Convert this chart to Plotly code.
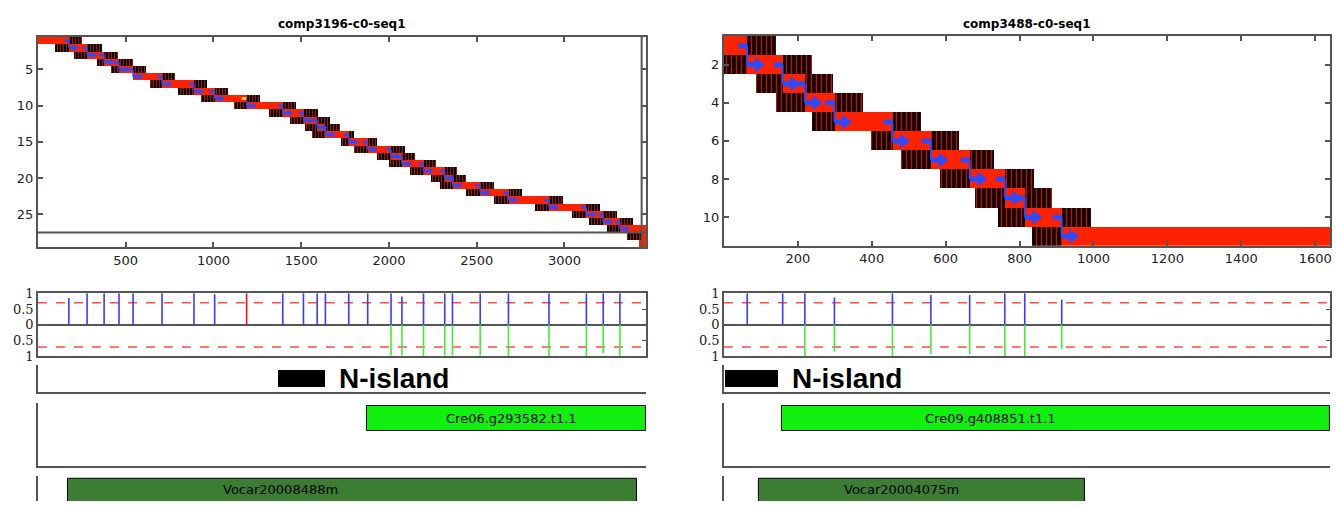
import plotly.graph_objects as go

W, H = 1336, 509

# ---------------------------------------------------------------- data
TITLES = ["comp3196-c0-seq1", "comp3488-c0-seq1"]

# left contig: one entry per aligned read row
L_ROWS = list(range(1, 30))
L_RED_START = [0, 176, 280, 377, 462, 542, 707, 889, 1007, 1189, 1395, 1513, 1591, 1638, 1771,
               1879, 2012, 2074, 2197, 2318, 2362, 2520, 2681, 2912, 3125, 3221, 3316, 3441, 3424]
L_RED_END = [176, 280, 377, 462, 542, 707, 889, 1007, 1189, 1395, 1513, 1591, 1638, 1771, 1879,
             2012, 2074, 2197, 2318, 2362, 2520, 2681, 2912, 3125, 3221, 3316, 3465, 3465, 3465]
L_BLACK_LEFT = [None, 97, 207, 334, 415, None, 640, 800, 930, 1115, 1314, 1434, 1519, 1562, 1726,
                1803, 1930, 2000, 2120, 2240, 2290, 2440, 2600, 2830, 3040, 3140, 3240, 3356, None]
L_BLACK_RIGHT = [248, 362, 453, 542, 618, 779, 965, 1080, 1263, 1468, 1593, 1661, 1718, 1803, 1934,
                 2090, 2150, 2270, 2390, 2440, 2600, 2760, 2990, 3200, 3300, 3390, None, None, None]
L_JUNCTIONS = [176, 280, 377, 462, 542, 707, 889, 1007, 1189, 1395, 1513, 1591, 1638, 1771, 1879,
               2012, 2074, 2197, 2318, 2362, 2520, 2681, 2912, 3125, 3221, 3316]
L_FWD = [0.85, 1, 1, 1, 1, 1, 1, 0.97, 1, 1, 1, 1, 1, 1, 1,
         1, 0.9, 1, 1, 1, 1, 1, 1, 1, 1, 1]
L_REV = [0, 0, 0, 0, 0, 0, 0, 0, 0, 0, 0, 0, 0, 0, 0,
         0.97, 0.97, 1, 0.97, 0.97, 0.97, 1, 1, 1, 0.9, 1]
L_FLAG = [0, 0, 0, 0, 0, 0, 0, 0, 1, 0, 0, 0, 0, 0, 0,
          0, 0, 0, 0, 0, 0, 0, 0, 0, 0, 0]

# right contig
R_ROWS = list(range(1, 12))
R_RED_START = [0, 63, 159, 219, 299, 456, 560, 665, 760, 814, 914]
R_RED_END = [63, 159, 219, 299, 456, 560, 665, 760, 814, 914, 1640]
R_BLACK_LEFT = [None, 0, 87, 140, 239, 399, 480, 584, 680, 741, 834]
R_BLACK_RIGHT = [141, 239, 295, 377, 534, 637, 730, 838, 887, 992, None]
R_JUNCTIONS = [63, 159, 219, 299, 456, 560, 665, 760, 814, 914]
R_FWD = [1, 1, 1, 0.87, 1, 0.95, 0.95, 1, 1, 0.8]
R_REV = [0, 0, 1, 0.85, 1, 0.93, 0.93, 1, 1, 0.77]
R_FLAG = [0, 0, 0, 0, 0, 0, 0, 0, 0, 0]

# axis extents / ticks
L_XMAX, R_XMAX = 3465, 1640
L_CONTIG_END, L_ROW_EDGE = 3440, 27.5
L_XTICKS = [500, 1000, 1500, 2000, 2500, 3000]
L_YTICKS = [5, 10, 15, 20, 25]
R_XTICKS = [200, 400, 600, 800, 1000, 1200, 1400, 1600]
R_YTICKS = [2, 4, 6, 8, 10]
MID_TICKS = [1, 0.5, 0, -0.5, -1]
MID_TICKTEXT = ["1", "0.5", "0", "0.5", "1"]
THRESH = 0.7

# annotation tracks: [start, end] and label positions
NISLAND_LABEL = "N-island"
L_NISLAND = [1365, 1633]
R_NISLAND = [3, 146]
L_NISLAND_TEXT_X, R_NISLAND_TEXT_X = 1706, 180
CRE_NAMES = ["Cre06.g293582.t1.1", "Cre09.g408851.t1.1"]
CRE_START = [1877, 157]
CRE_END = [3465, 1640]
CRE_TEXT_X = [2700, 722]
VOC_NAMES = ["Vocar20008488m", "Vocar20004075m"]
VOC_START = [171, 95]
VOC_END = [3413, 978]
VOC_TEXT_X = [1380, 481]

# ---------------------------------------------------------------- styles
RED = '#ff2200'
STRIPE = '#c81600'
BLUE = '#2a4bff'
YELLOW = '#ffe600'
STICK_BLUE = '#3a3aff'
STICK_RED = '#e81010'
GREEN = '#40ee30'
DASH_RED = '#ff4a4a'
LIME = '#12f010'
DKGREEN = '#3a7d33'
AXC = '#555555'
SANS = 'DejaVu Sans'


def xd(a, b):
    return [a / W, b / W]


def yd(top, bot):
    return [1 - bot / H, 1 - top / H]


LX, RX = xd(38, 647), xd(725, 1332)

traces = []


def read_bars(rows, rs, re_, bl, br, xa, ya, psize):
    by, bb, bx = [], [], []
    for r, s, e, l, rr in zip(rows, rs, re_, bl, br):
        if l is not None:
            by.append(r); bb.append(l); bx.append(s - l)
        if rr is not None:
            by.append(r); bb.append(e); bx.append(rr - e)
    blk = go.Bar(orientation='h', y=by, base=bb, x=bx, width=1.0,
                 marker=dict(color='black', line=dict(width=0),
                             pattern=dict(shape='|', fillmode='replace', fgcolor=STRIPE,
                                          bgcolor='black', size=psize, solidity=0.3)),
                 xaxis=xa, yaxis=ya, showlegend=False, hoverinfo='skip')
    red = go.Bar(orientation='h', y=rows, base=rs, x=[e - s for s, e in zip(rs, re_)], width=1.0,
                 marker=dict(color=RED, line=dict(width=0)),
                 xaxis=xa, yaxis=ya, showlegend=False, hoverinfo='skip')
    return [blk, red]


def arrows(rows, junctions, flags, xa, ya, dash_len, shaft_len, dash_w, vert_w, shaft_w, head):
    out = []
    for fv, col in ((0, BLUE), (1, YELLOW)):
        xs, ys = [], []
        for i, (j, f) in enumerate(zip(junctions, flags)):
            if f == fv:
                xs += [j - dash_len, j, None]
                ys += [rows[i], rows[i], None]
        if xs:
            out.append(go.Scatter(x=xs, y=ys, mode='lines', line=dict(color=col, width=dash_w),
                                  xaxis=xa, yaxis=ya, showlegend=False, hoverinfo='skip'))
    vx, vy, sx, sy, hx, hy = [], [], [], [], [], []
    for i, j in enumerate(junctions):
        vx += [j, j, None]; vy += [rows[i], rows[i + 1], None]
        sx += [j, j + shaft_len, None]; sy += [rows[i + 1], rows[i + 1], None]
        hx.append(j + shaft_len); hy.append(rows[i + 1])
    out.append(go.Scatter(x=vx, y=vy, mode='lines', line=dict(color=BLUE, width=vert_w),
                          xaxis=xa, yaxis=ya, showlegend=False, hoverinfo='skip'))
    out.append(go.Scatter(x=sx, y=sy, mode='lines', line=dict(color=BLUE, width=shaft_w),
                          xaxis=xa, yaxis=ya, showlegend=False, hoverinfo='skip'))
    out.append(go.Scatter(x=hx, y=hy, mode='markers',
                          marker=dict(symbol='triangle-right', size=head, color=BLUE, line=dict(width=0)),
                          xaxis=xa, yaxis=ya, showlegend=False, hoverinfo='skip'))
    return out


def sticks(junctions, fwd, rev, flags, xmax, xa, ya):
    out = []
    for sign in (1, -1):
        out.append(go.Scatter(x=[0, xmax], y=[sign * THRESH, sign * THRESH], mode='lines',
                              line=dict(color=DASH_RED, width=1.6, dash='dash'),
                              xaxis=xa, yaxis=ya, showlegend=False, hoverinfo='skip'))
    bx, by, rx, ry, gx, gy = [], [], [], [], [], []
    for j, f, r, fl in zip(junctions, fwd, rev, flags):
        if f > 0:
            if fl:
                rx += [j, j, None]; ry += [0, f, None]
            else:
                bx += [j, j, None]; by += [0, f, None]
        if r > 0:
            gx += [j, j, None]; gy += [0, -r, None]
    for xs, ys, c in ((bx, by, STICK_BLUE), (rx, ry, STICK_RED), (gx, gy, GREEN)):
        if xs:
            out.append(go.Scatter(x=xs, y=ys, mode='lines', line=dict(color=c, width=1.6),
                                  xaxis=xa, yaxis=ya, showlegend=False, hoverinfo='skip'))
    return out


# top panels
traces += read_bars(L_ROWS, L_RED_START, L_RED_END, L_BLACK_LEFT, L_BLACK_RIGHT, 'x', 'y', 3)
traces += arrows(L_ROWS, L_JUNCTIONS, L_FLAG, 'x', 'y', 28, 40, 2.5, 1.5, 3, 6)
traces += read_bars(R_ROWS, R_RED_START, R_RED_END, R_BLACK_LEFT, R_BLACK_RIGHT, 'x2', 'y2', 5)
traces += arrows(R_ROWS, R_JUNCTIONS, R_FLAG, 'x2', 'y2', 24, 30, 5, 2, 5, 13)

# middle panels
traces += sticks(L_JUNCTIONS, L_FWD, L_REV, L_FLAG, L_XMAX, 'x3', 'y3')
traces += sticks(R_JUNCTIONS, R_FWD, R_REV, R_FLAG, R_XMAX, 'x4', 'y4')

# N-island tracks
for k, (rng, xa, ya) in enumerate(((L_NISLAND, 'x5', 'y5'), (R_NISLAND, 'x6', 'y6'))):
    traces.append(go.Bar(orientation='h', y=[0.5], base=[rng[0]], x=[rng[1] - rng[0]], width=[0.6],
                         marker=dict(color='black', line=dict(width=0)),
                         xaxis=xa, yaxis=ya, showlegend=False, hoverinfo='skip'))

# gene tracks
for k, (xa, ya) in enumerate((('x7', 'y7'), ('x8', 'y8'))):
    traces.append(go.Bar(orientation='h', y=[0.754], base=[CRE_START[k]], x=[CRE_END[k] - CRE_START[k]],
                         width=[0.4], marker=dict(color=LIME, line=dict(color='black', width=1)),
                         xaxis=xa, yaxis=ya, showlegend=False, hoverinfo='skip'))
for k, (xa, ya) in enumerate((('x9', 'y9'), ('x10', 'y10'))):
    traces.append(go.Bar(orientation='h', y=[0.2], base=[VOC_START[k]], x=[VOC_END[k] - VOC_START[k]],
                         width=[1.4], marker=dict(color=DKGREEN, line=dict(color='black', width=1)),
                         xaxis=xa, yaxis=ya, showlegend=False, hoverinfo='skip'))

fig = go.Figure(traces)

tickfont = dict(family=SANS, size=13, color='#222')


def top_x(dom, xmax, tv, anchor):
    return dict(domain=dom, range=[0, xmax], showline=True, linecolor=AXC, linewidth=2, mirror='ticks',
                ticks='inside', ticklen=5, tickwidth=1.5, tickcolor=AXC, tickvals=tv, tickfont=tickfont,
                showgrid=False, zeroline=False, anchor=anchor)


def top_y(dom, rng, tv, anchor):
    return dict(domain=dom, range=rng, showline=True, linecolor=AXC, linewidth=2, mirror='ticks',
                ticks='inside', ticklen=5, tickwidth=1.5, tickcolor=AXC, tickvals=tv, tickfont=tickfont,
                showgrid=False, zeroline=False, anchor=anchor)


def mid_x(dom, xmax, anchor):
    return dict(domain=dom, range=[0, xmax], showline=True, linecolor=AXC, linewidth=1.5, mirror=True,
                showticklabels=False, ticks='', showgrid=False, zeroline=False, anchor=anchor)


def mid_y(dom, anchor):
    return dict(domain=dom, range=[-1, 1], showline=True, linecolor=AXC, linewidth=1.5, mirror=True,
                ticks='', tickvals=MID_TICKS, ticktext=MID_TICKTEXT,
                tickfont=dict(family='DejaVu Serif', size=13, color='#222'),
                showgrid=False, zeroline=True, zerolinecolor=AXC, zerolinewidth=1.5, anchor=anchor)


def mid_y_right(ov, anchor):
    return dict(overlaying=ov, side='right', range=[-1, 1], showline=False, ticks='inside', ticklen=4,
                tickcolor=AXC, tickvals=[0.5, -0.5], showticklabels=False, showgrid=False,
                zeroline=False, anchor=anchor)


def trk_x(dom, xmax, anchor, line=True):
    return dict(domain=dom, range=[0, xmax], showline=line, linecolor=AXC, linewidth=1.5, mirror=False,
                showticklabels=False, ticks='', showgrid=False, zeroline=False, anchor=anchor)


def trk_y(dom, anchor):
    return dict(domain=dom, range=[0, 1], showline=True, linecolor=AXC, linewidth=1.5, mirror=False,
                showticklabels=False, ticks='', showgrid=False, zeroline=False, anchor=anchor)


layout = dict(
    width=W, height=H, margin=dict(l=0, r=0, t=0, b=0),
    paper_bgcolor='white', plot_bgcolor='white', barmode='overlay', bargap=0,
    showlegend=False,
    xaxis=top_x(LX, L_XMAX, L_XTICKS, 'y'),
    yaxis=top_y(yd(30.7, 247.3), [29.5, 0.5], L_YTICKS, 'x'),
    xaxis2=top_x(RX, R_XMAX, R_XTICKS, 'y2'),
    yaxis2=top_y(yd(30, 246), [11.5, 0.5], R_YTICKS, 'x2'),
    xaxis3=mid_x(LX, L_XMAX, 'y3'), yaxis3=mid_y(yd(295, 360), 'x3'),
    xaxis4=mid_x(RX, R_XMAX, 'y4'), yaxis4=mid_y(yd(295, 360), 'x4'),
    xaxis5=trk_x(LX, L_XMAX, 'y5'), yaxis5=trk_y(yd(369, 397), 'x5'),
    xaxis6=trk_x(RX, R_XMAX, 'y6'), yaxis6=trk_y(yd(369, 397), 'x6'),
    xaxis7=trk_x(LX, L_XMAX, 'y7'), yaxis7=trk_y(yd(408, 473), 'x7'),
    xaxis8=trk_x(RX, R_XMAX, 'y8'), yaxis8=trk_y(yd(408, 473), 'x8'),
    xaxis9=trk_x(LX, L_XMAX, 'y9', line=False), yaxis9=trk_y(yd(483, 509), 'x9'),
    xaxis10=trk_x(RX, R_XMAX, 'y10', line=False), yaxis10=trk_y(yd(483, 509), 'x10'),
    yaxis11=mid_y_right('y3', 'x3'),
    yaxis12=mid_y_right('y4', 'x4'),
)
fig.update_layout(**layout)

# invisible traces to activate the right-side tick axes of the middle panels
fig.add_trace(go.Scatter(x=[None], y=[None], xaxis='x3', yaxis='y11', showlegend=False, hoverinfo='skip'))
fig.add_trace(go.Scatter(x=[None], y=[None], xaxis='x4', yaxis='y12', showlegend=False, hoverinfo='skip'))

# contig end / last-row markers in the left read panel
fig.add_shape(type='line', xref='x', yref='y', x0=L_CONTIG_END, x1=L_CONTIG_END, y0=0.5, y1=29.5,
              line=dict(color=AXC, width=2))
fig.add_shape(type='line', xref='x', yref='y', x0=0, x1=L_XMAX, y0=L_ROW_EDGE, y1=L_ROW_EDGE,
              line=dict(color=AXC, width=2))

ann = []
for t, dom in zip(TITLES, (LX, RX)):
    ann.append(dict(text=t, x=(dom[0] + dom[1]) / 2, y=1 - 18 / H, xref='paper', yref='paper',
                    xanchor='center', yanchor='middle', showarrow=False,
                    font=dict(family=SANS, size=12, color='black', weight='bold')))
for xa, ya, xt in (('x5', 'y5', L_NISLAND_TEXT_X), ('x6', 'y6', R_NISLAND_TEXT_X)):
    ann.append(dict(text=NISLAND_LABEL, x=xt, y=0.5, xref=xa, yref=ya, xanchor='left', showarrow=False,
                    font=dict(family='Liberation Sans', size=28, color='black', weight='bold')))
for k, (xa, ya) in enumerate((('x7', 'y7'), ('x8', 'y8'))):
    ann.append(dict(text=CRE_NAMES[k], x=CRE_TEXT_X[k], y=0.754, xref=xa, yref=ya, showarrow=False,
                    xanchor='center', yanchor='middle',
                    font=dict(family=SANS, size=13, color='black')))
for k, (xa, ya) in enumerate((('x9', 'y9'), ('x10', 'y10'))):
    ann.append(dict(text=VOC_NAMES[k], x=VOC_TEXT_X[k], y=0.46, xref=xa, yref=ya, showarrow=False,
                    xanchor='center', yanchor='middle',
                    font=dict(family=SANS, size=13, color='black')))
fig.update_layout(annotations=ann)

fig.write_html("out.html")
